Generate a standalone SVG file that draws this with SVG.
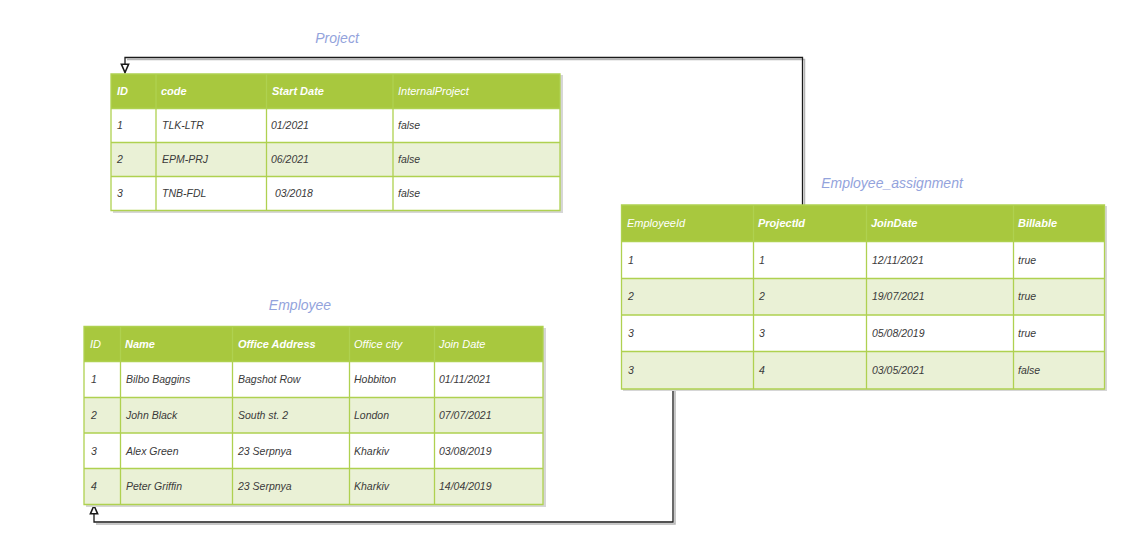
<svg xmlns="http://www.w3.org/2000/svg" width="1125" height="546" viewBox="0 0 1125 546">
<style>
.hdr{fill:#a8c83e}
.alt{fill:#eaf1d6}
.wht{fill:#ffffff}
.grid{stroke:#afd150;stroke-width:1.3;fill:none}
.shadow{fill:#d6d6d6}
.title{font-family:"Liberation Sans",sans-serif;font-style:italic;font-size:14px;fill:#93a3dc;text-anchor:middle}
.h{font-family:"Liberation Sans",sans-serif;font-style:italic;font-size:11px;fill:#ffffff}
.hb{font-family:"Liberation Sans",sans-serif;font-style:italic;font-weight:bold;font-size:11px;fill:#ffffff}
.d{font-family:"Liberation Sans",sans-serif;font-style:italic;font-size:10.5px;fill:#3a3a3a}
.conn{stroke:#1a1a1a;stroke-width:1.3;fill:none}
.connsh{stroke:#b5b5b5;stroke-width:1.5;fill:none}
</style>
<defs>
<marker id="arr" viewBox="0 0 10 10" refX="9" refY="5" markerWidth="8" markerHeight="8" orient="auto">
<path d="M1,1.5 L9,5 L1,8.5 Z" fill="#ffffff" stroke="#1a1a1a" stroke-width="1.5"/>
</marker>
</defs>
<rect width="1125" height="546" fill="#ffffff"/>

<g id="connectors">
<path class="connsh" d="M804.5,205 V59.5 H127"/>
<path class="conn" d="M802.5,205 V57.5 H125 V72.5" marker-end="url(#arr)"/>
<path class="connsh" d="M675,389 V524 H96"/>
<path class="conn" d="M673,389 V522 H94 V505.5" marker-end="url(#arr)"/>
</g>

<g id="project">
<text class="title" x="337" y="43">Project</text>
<rect class="shadow" x="113" y="75" width="450" height="138"/>
<rect class="hdr" x="111" y="74" width="449" height="34.5"/>
<rect class="wht" x="111" y="108.5" width="449" height="34"/>
<rect class="alt" x="111" y="142.5" width="449" height="34"/>
<rect class="wht" x="111" y="176.5" width="449" height="34"/>
<path class="grid" d="M111,74 H560 V210.5 H111 Z M111,108.5 H560 M111,142.5 H560 M111,176.5 H560 M156,74 V210.5 M266.5,74 V210.5 M393,74 V210.5"/>
<text class="hb" x="117" y="95">ID</text>
<text class="hb" x="161" y="95">code</text>
<text class="hb" x="272" y="95">Start Date</text>
<text class="h" x="398" y="95">InternalProject</text>
<text class="d" x="117" y="129">1</text>
<text class="d" x="162" y="129">TLK-LTR</text>
<text class="d" x="271" y="129">01/2021</text>
<text class="d" x="398" y="129">false</text>
<text class="d" x="117" y="163">2</text>
<text class="d" x="162" y="163">EPM-PRJ</text>
<text class="d" x="271" y="163">06/2021</text>
<text class="d" x="398" y="163">false</text>
<text class="d" x="117" y="197">3</text>
<text class="d" x="162" y="197">TNB-FDL</text>
<text class="d" x="275" y="197">03/2018</text>
<text class="d" x="398" y="197">false</text>
</g>

<g id="employee">
<text class="title" x="300" y="310">Employee</text>
<rect class="shadow" x="86" y="328" width="460" height="179"/>
<rect class="hdr" x="84" y="326.5" width="459" height="35"/>
<rect class="wht" x="84" y="361.5" width="459" height="36"/>
<rect class="alt" x="84" y="397.5" width="459" height="35.5"/>
<rect class="wht" x="84" y="433" width="459" height="35.5"/>
<rect class="alt" x="84" y="468.5" width="459" height="36"/>
<path class="grid" d="M84,326.5 H543 V504.5 H84 Z M84,361.5 H543 M84,397.5 H543 M84,433 H543 M84,468.5 H543 M120.5,326.5 V504.5 M232.5,326.5 V504.5 M349.5,326.5 V504.5 M434.5,326.5 V504.5"/>
<text class="h" x="90" y="348">ID</text>
<text class="hb" x="125" y="348">Name</text>
<text class="hb" x="238" y="348">Office Address</text>
<text class="h" x="354" y="348">Office city</text>
<text class="h" x="439" y="348">Join Date</text>
<text class="d" x="91" y="383">1</text>
<text class="d" x="126" y="383">Bilbo Baggins</text>
<text class="d" x="238" y="383">Bagshot Row</text>
<text class="d" x="354" y="383">Hobbiton</text>
<text class="d" x="439" y="383">01/11/2021</text>
<text class="d" x="91" y="419">2</text>
<text class="d" x="126" y="419">John Black</text>
<text class="d" x="238" y="419">South st. 2</text>
<text class="d" x="354" y="419">London</text>
<text class="d" x="439" y="419">07/07/2021</text>
<text class="d" x="91" y="455">3</text>
<text class="d" x="126" y="455">Alex Green</text>
<text class="d" x="238" y="455">23 Serpnya</text>
<text class="d" x="354" y="455">Kharkiv</text>
<text class="d" x="439" y="455">03/08/2019</text>
<text class="d" x="91" y="490">4</text>
<text class="d" x="126" y="490">Peter Griffin</text>
<text class="d" x="238" y="490">23 Serpnya</text>
<text class="d" x="354" y="490">Kharkiv</text>
<text class="d" x="439" y="490">14/04/2019</text>
</g>

<g id="employee_assignment">
<text class="title" x="892" y="188">Employee_assignment</text>
<rect class="shadow" x="623" y="206" width="484" height="185"/>
<rect class="hdr" x="621.5" y="205" width="483" height="36.5"/>
<rect class="wht" x="621.5" y="241.5" width="483" height="37"/>
<rect class="alt" x="621.5" y="278.5" width="483" height="36.5"/>
<rect class="wht" x="621.5" y="315" width="483" height="36.5"/>
<rect class="alt" x="621.5" y="351.5" width="483" height="37.5"/>
<path class="grid" d="M621.5,205 H1104.5 V389 H621.5 Z M621.5,241.5 H1104.5 M621.5,278.5 H1104.5 M621.5,315 H1104.5 M621.5,351.5 H1104.5 M753.5,205 V389 M866.5,205 V389 M1013.5,205 V389"/>
<text class="h" x="627" y="227">EmployeeId</text>
<text class="hb" x="758" y="227">ProjectId</text>
<text class="hb" x="871" y="227">JoinDate</text>
<text class="hb" x="1018" y="227">Billable</text>
<text class="d" x="628" y="264">1</text>
<text class="d" x="759" y="264">1</text>
<text class="d" x="872" y="264">12/11/2021</text>
<text class="d" x="1018" y="264">true</text>
<text class="d" x="628" y="300">2</text>
<text class="d" x="759" y="300">2</text>
<text class="d" x="872" y="300">19/07/2021</text>
<text class="d" x="1018" y="300">true</text>
<text class="d" x="628" y="337">3</text>
<text class="d" x="759" y="337">3</text>
<text class="d" x="872" y="337">05/08/2019</text>
<text class="d" x="1018" y="337">true</text>
<text class="d" x="628" y="374">3</text>
<text class="d" x="759" y="374">4</text>
<text class="d" x="872" y="374">03/05/2021</text>
<text class="d" x="1018" y="374">false</text>
</g>
</svg>
